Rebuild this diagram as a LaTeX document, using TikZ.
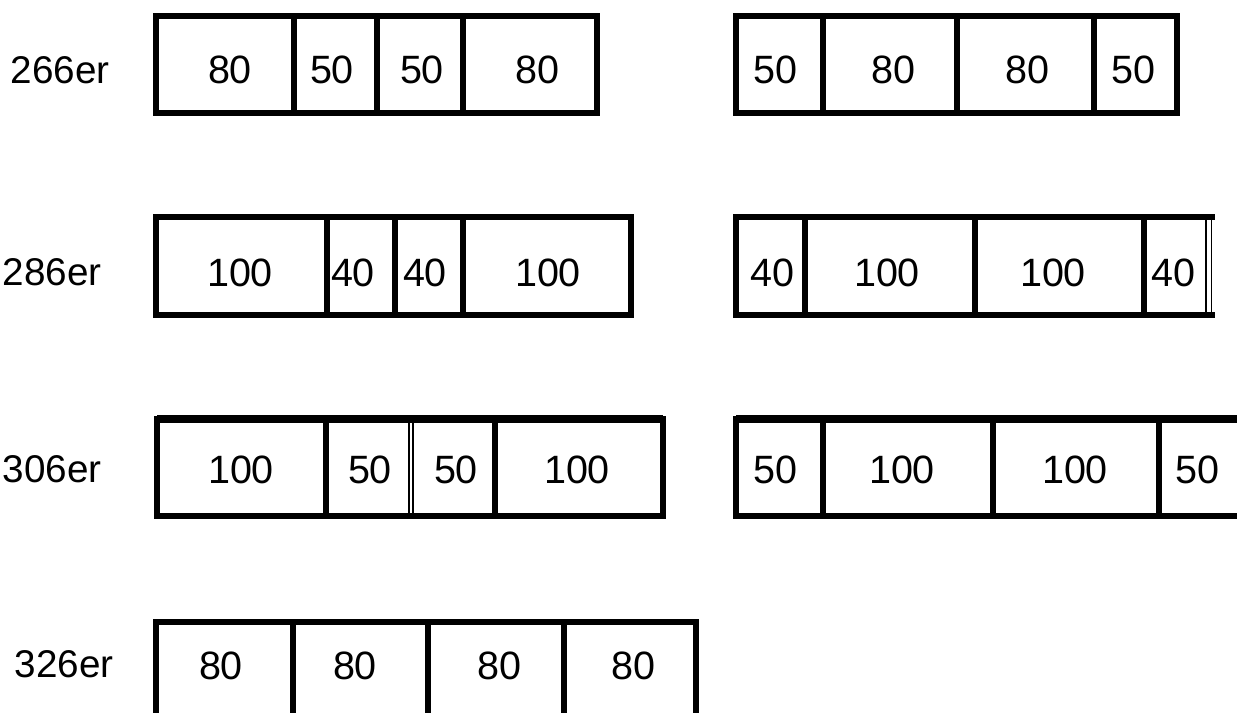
\documentclass[tikz,border=0pt]{standalone}
\usepackage{fontspec}
\setmainfont{Liberation Sans}
\usetikzlibrary{positioning}

\begin{document}
\begin{tikzpicture}[x=0.02cm, y=-0.02cm,
	frame/.style={line width=2.9pt, line join=miter, line cap=rect},
	thinline/.style={line width=1pt},
	num/.style={font=\fontsize{22.5}{26}\selectfont, inner sep=0pt},
	tag/.style={font=\fontsize{22}{26}\selectfont, inner sep=0pt}]
	\useasboundingbox (0,0) rectangle (1237,713);
	\clip (0,0) rectangle (1237,713);
	% row labels
	\node[tag] (t266) at (60,70) {266er};
	\node[tag] (t286) at (52,272) {286er};
	\node[tag] (t306) at (52,469) {306er};
	\node[tag] (t326) at (64,664) {326er};
	% 266er
	\draw[frame] (156,16) rectangle (597,113);
	\foreach \x in {294,377,463} \draw[frame] (\x,16) -- (\x,113);
	\foreach \x/\t/\n in {230/80/a, 332/50/b, 422/50/c, 537/80/d}
		\node[num] (l1\n) at (\x,70) {\t};
	\draw[frame] (736,16) rectangle (1177,113);
	\foreach \x in {823,957,1094} \draw[frame] (\x,16) -- (\x,113);
	\foreach \x/\t/\n in {775/50/a, 893/80/b, 1027/80/c, 1133/50/d}
		\node[num] (r1\n) at (\x,70) {\t};
	% 286er
	\draw[frame] (156,217) rectangle (631,315);
	\foreach \x in {327,395,463} \draw[frame] (\x,217) -- (\x,315);
	\foreach \x/\t/\n in {240/100/a, 353/40/b, 425/40/c, 548/100/d}
		\node[num] (l2\n) at (\x,273) {\t};
	\draw[frame] (736,217) -- (736,315) -- (1212,315);
	\draw[frame] (736,217) -- (1212,217);
	\draw[line width=1.6pt] (1206,217) -- (1206,315);
	\draw[thinline] (1211.5,217) -- (1211.5,315);
	\foreach \x in {805,975,1144} \draw[frame] (\x,217) -- (\x,315);
	\foreach \x/\t/\n in {772/40/a, 887/100/b, 1053/100/c, 1173/40/d}
		\node[num] (r2\n) at (\x,273) {\t};
	% 306er
	\draw[frame] (157,516) -- (157,419) -- (663,419) -- (663,516) -- cycle;
	\draw[line width=4.2pt] (157,419) -- (663,419);
	\foreach \x in {326,495} \draw[frame] (\x,419) -- (\x,516);
	\draw[thinline] (409,419) -- (409,516);
	\draw[thinline] (413,419) -- (413,516);
	\foreach \x/\t/\n in {241/100/a, 370/50/b, 456/50/c, 577/100/d}
		\node[num] (l3\n) at (\x,470) {\t};
	\draw[frame] (1250,516) -- (736,516) -- (736,419) -- (1250,419);
	\draw[line width=4.2pt] (736,419) -- (1250,419);
	\foreach \x in {823,993,1159} \draw[frame] (\x,419) -- (\x,516);
	\foreach \x/\t/\n in {775/50/a, 902/100/b, 1075/100/c, 1197/50/d}
		\node[num] (r3\n) at (\x,470) {\t};
	% 326er
	\draw[frame] (156,730) -- (156,622) -- (696,622) -- (696,730);
	\foreach \x in {293,428,564} \draw[frame] (\x,622) -- (\x,730);
	\foreach \x/\t/\n in {221/80/a, 355/80/b, 499/80/c, 633/80/d}
		\node[num] (l4\n) at (\x,666) {\t};
\end{tikzpicture}
\end{document}
